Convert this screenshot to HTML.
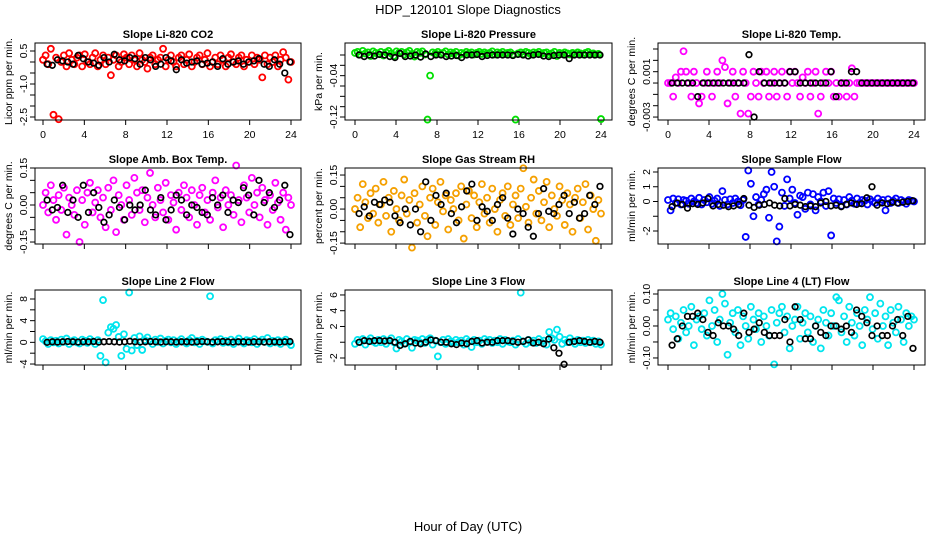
<!DOCTYPE html>
<html><head><meta charset="utf-8"><style>
html,body{margin:0;padding:0;background:#fff}
svg{display:block}
text{font-family:"Liberation Sans",sans-serif;fill:#000}
</style></head><body>
<svg id="chart" width="936" height="540" viewBox="0 0 936 540">
<rect width="936" height="540" fill="#fff"/>
<text x="468" y="14" font-size="13" text-anchor="middle">HDP_120101  Slope Diagnostics</text>
<text x="468" y="531" font-size="13" text-anchor="middle">Hour of Day (UTC)</text>
</svg>
<script>
const hourTicks=[0,4,8,12,16,20,24];
// Panel 1 CO2
const co2Col=[0.1,0.3,-0.1,0.6,-2.4,0.2,-2.6,0.0,0.3,-0.2,0.4,0.1,-0.1,0.2,0.3,-0.2,0.35,0.0,-0.1,0.2,0.4,-0.2,0.1,0.3,-0.1,0.2,-0.6,0.1,0.3,-0.2,0.0,0.35,0.2,-0.1,0.3,0.1,-0.2,0.4,0.1,0.0,-0.3,0.2,0.3,-0.1,0.1,0.2,0.6,-0.2,0.1,0.3,0.0,-0.2,0.2,0.3,-0.1,0.1,0.35,-0.2,0.0,0.2,0.3,-0.1,0.1,0.4,-0.2,0.0,0.2,-0.1,0.3,0.1,-0.2,0.2,0.35,0.0,-0.1,0.2,0.3,-0.2,0.1,0.0,0.3,-0.1,0.2,0.1,-0.7,0.3,-0.1,0.2,0.0,0.3,-0.2,0.1,0.45,0.2,-0.8,0.0];
const co2Blk=[-0.1,-0.15,0.1,0.05,0.0,-0.1,0.3,0.15,0.0,-0.05,-0.15,0.2,0.0,0.35,0.1,0.05,0.2,0.15,-0.1,0.2,0.1,-0.2,-0.1,0.2,0.05,-0.35,0.1,-0.05,0.0,0.05,-0.1,-0.05,0.0,-0.2,0.15,-0.1,0.0,0.05,-0.1,0.0,0.05,0.15,-0.1,-0.2,0.1,-0.1,-0.5,0.0];
// Panel 2 Pressure
const presCol=[0.004,0.006,0.001,0.008,0.003,0.005,-0.002,0.007,0.004,0.002,0.006,-0.001,0.005,0.008,0.003,-0.002,0.007,0.004,0.006,0.001,0.005,0.008,0.002,-0.003,0.006,0.004,0.007,0.001,-0.125,-0.04,0.005,0.003,0.006,0.002,0.004,0.007,0.001,0.005,0.003,0.006,-0.001,0.004,0.002,0.006,0.003,0.005,0.001,0.004,0.006,0.002,0.005,0.003,0.004,0.007,0.001,0.005,0.003,0.006,0.002,0.004,0.005,0.001,-0.125,0.003,0.005,0.002,0.006,0.004,0.001,0.005,0.003,0.006,0.002,0.004,0.005,0.001,0.003,0.006,-0.002,0.004,0.002,0.005,0.003,0.001,0.004,0.002,0.005,0.003,0.001,0.004,0.006,0.002,0.003,0.001,0.002,-0.124];
const presBlk=[0.0,-0.003,0.0,-0.002,0.001,0.0,-0.003,-0.005,0.003,-0.003,-0.002,0.0,-0.004,0.002,-0.003,0.0,0.0,-0.003,-0.002,-0.001,-0.005,0.0,0.0,0.001,-0.003,-0.001,0.0,0.0,0.0,0.0,-0.001,0.001,0.0,-0.002,0.0,0.001,-0.002,-0.003,-0.001,0.0,0.0,-0.007,0.0,0.0,0.0,0.0,0.0,0.0];
// Panel 3 Li-820 Temp
const tempCol=[0,0,-0.0012,0.0005,0,0.001,0.0028,0.001,0,-0.0012,0.001,0,-0.0018,-0.0012,0,0.001,0,-0.0012,0,0.001,0,0.002,0.0014,-0.0018,0,0.001,-0.0012,0,-0.0027,0.001,0,-0.0027,-0.0012,0.001,0,-0.0012,0.001,0,0.001,-0.0012,0,0.001,-0.0012,0,0.001,0,-0.0012,0.001,0,0.001,0,-0.0012,0.0005,0,0.001,-0.0012,0,0.001,-0.0027,-0.0012,0,0.001,0,0.001,-0.0012,0,-0.0012,0,0,-0.0012,0,0.0013,-0.0012,0,0,0,0,0,0,0,0,0,0,0,0,0,0,0,0,0,0,0,0,0,0,0];
const tempBlk=[0,0,0,0,0,-0.0012,0,0,0,0,0,0,0,0,0,0.0025,-0.003,0.001,0,0,0,0,0,0.001,0.001,0,0,0,0,0,0,0.001,-0.0012,0,0,0.001,0.001,0,0,0,0,0,0,0,0,0,0,0];
// Panel 4 Amb Box Temp
const ambCol=[0.0,0.05,-0.03,0.08,0.02,-0.06,0.04,-0.02,0.07,-0.12,0.03,0.0,-0.04,0.06,-0.15,0.02,-0.08,0.05,0.09,-0.03,0.01,0.06,-0.05,0.03,-0.09,0.07,-0.02,0.1,-0.11,0.04,0.0,-0.06,0.08,0.02,-0.04,0.11,0.05,-0.02,0.06,-0.07,0.03,0.13,0.0,-0.05,0.07,0.02,-0.03,0.09,-0.06,0.04,0.01,-0.1,0.05,-0.02,0.08,0.03,-0.05,0.06,0.0,-0.08,0.04,0.07,-0.03,0.02,-0.06,0.05,0.1,-0.01,0.03,-0.09,0.06,0.0,0.04,-0.04,0.16,0.02,-0.07,0.08,0.03,-0.03,0.11,0.0,0.05,-0.05,0.07,0.02,-0.08,0.04,-0.02,0.09,0.01,-0.06,0.05,-0.1,0.03,0.0];
const ambBlk=[0.02,-0.02,-0.01,0.08,-0.03,0.02,-0.05,0.08,-0.03,0.05,-0.01,-0.07,-0.04,0.02,-0.01,-0.06,0.0,-0.02,0.0,0.06,-0.02,-0.04,0.03,-0.06,-0.02,0.04,0.02,-0.04,0.0,-0.01,-0.03,-0.04,0.03,0.0,0.04,-0.03,0.02,0.01,0.07,0.04,-0.04,0.1,0.01,0.05,-0.01,0.02,0.08,-0.12];
// Panel 5 Gas Stream RH
const rhCol=[0.0,0.05,-0.08,0.11,0.03,-0.04,0.07,-0.02,0.09,-0.06,0.02,0.12,-0.03,0.05,-0.1,0.08,0.0,-0.05,0.06,0.13,-0.02,0.04,-0.17,0.07,-0.06,0.02,0.1,-0.03,-0.12,0.05,0.09,-0.07,0.03,0.12,-0.01,0.06,-0.09,0.04,0.0,0.07,-0.05,0.1,-0.13,0.02,0.08,-0.04,0.06,-0.08,0.03,0.11,-0.02,0.05,-0.06,0.09,0.0,-0.1,0.04,0.07,-0.03,0.1,-0.07,0.02,0.06,-0.04,0.09,0.18,0.01,-0.06,0.05,0.13,-0.02,0.08,-0.05,0.03,0.12,-0.08,0.06,0.0,-0.03,0.1,0.04,-0.07,0.07,0.02,-0.1,0.05,0.09,-0.04,0.03,0.11,-0.09,0.06,0.0,-0.14,0.04,-0.02];
const rhBlk=[-0.02,0.01,-0.03,0.03,0.02,0.04,0.03,-0.03,-0.06,0.0,-0.07,0.0,-0.1,0.12,-0.05,0.06,0.02,0.07,-0.02,-0.06,0.01,0.08,0.11,-0.05,0.01,-0.01,-0.05,0.02,0.05,-0.04,-0.11,0.0,-0.02,-0.08,-0.12,-0.02,0.09,-0.01,-0.02,0.02,0.06,-0.02,0.03,-0.04,-0.02,0.06,0.02,0.1];
// Panel 6 Sample Flow
const sfCol=[0.1,-0.6,0.2,-0.1,0.15,-0.2,0.1,0.05,-0.15,0.2,0.0,-0.1,0.25,-0.2,0.1,-0.05,0.3,-0.15,0.05,0.2,-0.3,0.7,0.1,-0.2,0.15,-0.1,0.2,0.0,-0.25,0.1,-2.4,2.1,1.2,-1.0,0.3,-0.2,0.1,0.5,0.8,-1.1,2.0,1.0,-2.7,-1.7,0.6,-0.3,1.5,0.2,0.8,-0.1,-0.9,0.4,0.3,-0.5,0.6,-0.2,0.5,-0.6,0.3,0.0,0.6,-0.3,0.7,-2.3,0.2,-0.1,0.15,-0.3,0.1,-0.2,0.3,0.05,-0.15,0.2,-0.1,0.1,0.05,-0.2,0.15,0.0,-0.1,0.2,-0.05,0.1,-0.6,0.15,-0.1,0.05,0.2,-0.1,0.1,0.0,-0.15,0.1,0.05,0.0];
const sfBlk=[-0.35,-0.1,-0.2,-0.45,-0.15,-0.2,-0.1,0.2,-0.3,-0.2,-0.25,-0.35,-0.3,-0.2,0.2,-0.25,-0.4,-0.25,-0.2,-0.1,-0.25,-0.3,0.2,-0.3,-0.2,-0.25,-0.35,-0.3,-0.35,-0.1,0.0,-0.3,-0.25,-0.35,-0.2,-0.1,-0.2,-0.15,0.25,1.0,-0.25,-0.1,-0.15,-0.05,-0.1,-0.05,0.0,0.05];
// Panel 7 Line 2 Flow
const l2Col=[0.6,0.2,-0.3,0.4,0.0,0.3,-0.2,0.5,0.1,0.7,-0.3,0.2,0.4,0.0,-0.2,0.5,0.3,-0.1,0.6,0.2,-0.3,0.4,-2.5,7.8,-3.7,1.8,2.8,2.5,3.2,1.0,-2.5,1.5,-1.2,9.2,-1.5,0.8,-0.5,1.1,-1.4,0.4,0.9,0.2,-0.3,0.5,0.1,0.7,-0.2,0.3,0.5,0.0,0.4,-0.3,0.2,0.6,0.1,-0.2,0.4,0.8,0.0,0.3,-0.3,0.5,0.2,0.1,8.5,-0.2,0.4,0.2,0.6,-0.1,0.3,0.0,0.5,-0.3,0.2,0.7,0.1,-0.2,0.4,0.3,0.0,0.6,-0.3,0.2,0.5,0.1,0.8,-0.2,0.3,0.0,0.4,-0.3,0.2,0.5,0.0,-0.5];
const l2Blk=[0.0,0.1,0.05,0.1,0.15,0.1,0.05,0.1,0.1,0.15,0.05,0.1,0.15,0.1,0.05,0.1,0.2,0.1,0.05,0.1,0.15,0.1,0.05,0.1,0.1,0.05,0.1,0.1,0.05,0.1,0.15,0.1,0.05,0.1,0.15,0.1,0.05,0.1,0.1,0.05,0.1,0.1,0.05,0.1,0.1,0.05,0.1,0.15];
// Panel 8 Line 3 Flow
const l3Col=[-0.2,0.3,0.0,0.4,-0.3,0.2,0.5,0.1,-0.1,0.3,0.0,0.4,-0.2,0.2,0.5,0.0,-0.8,0.3,0.1,-0.2,0.4,0.0,-0.7,0.3,0.2,0.0,0.4,-0.1,0.3,0.5,-0.3,0.2,-1.8,0.0,0.3,-0.2,0.4,0.1,-0.1,0.3,0.0,0.2,-0.3,0.4,0.1,-0.6,0.3,0.0,0.2,-0.2,0.4,0.1,0.3,-0.1,0.2,0.0,0.4,-0.2,0.3,0.1,0.0,0.2,-0.3,0.4,6.3,0.1,-0.2,0.3,0.0,0.2,-0.1,0.4,0.0,0.2,-0.3,1.3,0.5,0.3,1.6,0.7,-0.2,0.3,0.0,0.5,0.1,-0.2,0.3,0.0,0.2,-0.1,0.3,0.0,0.2,-0.2,0.1,-0.3];
const l3Blk=[0.0,0.2,0.1,0.2,0.2,0.15,0.2,0.0,-0.4,-0.2,0.1,-0.1,-0.2,0.0,0.3,0.2,0.0,0.0,-0.2,-0.3,-0.1,-0.2,0.1,0.2,-0.1,0.0,0.0,0.2,0.2,0.2,0.1,0.0,0.1,0.3,-0.1,0.0,-0.2,0.4,-0.7,-1.4,-2.8,0.0,0.1,0.2,0.1,0.0,0.1,0.0];
// Panel 9 Line 4 Flow
const l4Col=[0.02,0.04,-0.01,0.03,-0.04,0.01,0.05,-0.02,0.0,0.06,-0.06,0.02,0.03,-0.01,0.04,-0.03,0.08,0.0,0.05,-0.05,0.02,0.1,0.07,-0.09,0.01,0.04,-0.02,0.05,-0.06,0.03,0.0,-0.04,0.06,0.02,-0.01,0.04,-0.05,0.03,0.0,-0.03,0.05,-0.12,0.01,0.04,0.06,-0.02,0.03,-0.07,0.0,0.02,0.06,-0.04,0.01,0.04,-0.02,0.03,-0.05,0.0,0.02,-0.07,0.05,0.01,-0.03,0.04,0.0,0.09,0.08,-0.02,0.03,-0.05,0.06,0.01,-0.03,0.04,0.0,-0.06,0.05,0.02,0.09,-0.01,0.04,-0.04,0.07,0.0,0.03,-0.06,0.05,0.01,-0.02,0.06,0.02,-0.05,0.04,0.0,0.03,0.02];
const l4Blk=[-0.06,-0.04,0.0,0.03,0.03,0.04,0.02,-0.02,-0.03,0.01,0.0,0.0,-0.01,-0.03,0.04,-0.02,-0.01,0.01,-0.02,-0.03,-0.03,-0.03,0.02,-0.05,0.06,0.02,-0.04,-0.04,0.0,-0.02,-0.03,0.0,0.0,-0.01,0.0,-0.02,0.05,0.03,0.01,-0.03,0.0,-0.03,-0.03,0.0,0.02,-0.03,0.03,-0.07];

const panels=[
 {name:'co2',title:'Slope Li-820 CO2',ylab:'Licor ppm per min.',col:'#ff0000',c:co2Col,k:co2Blk,box:[35,43,301,120],x0:43,x24:291,yt:0.864,yb:-2.636,ticks:[0.5,0,-0.5,-1,-1.5,-2,-2.5],labels:[[0.5,'0.5'],[-1,'-1.0'],[-2.5,'-2.5']],xl:true},
 {name:'pressure',title:'Slope Li-820 Pressure',ylab:'kPa per min.',col:'#00e000',c:presCol,k:presBlk,box:[345,43,612,120],x0:355,x24:601,yt:0.0232,yb:-0.1258,ticks:[0,-0.02,-0.04,-0.06,-0.08,-0.1,-0.12],labels:[[-0.04,'-0.04'],[-0.12,'-0.12']],xl:true},
 {name:'li820-temp',title:'Slope Li-820 Temp.',ylab:'degrees C per min.',col:'#ff00ff',c:tempCol,k:tempBlk,box:[658,43,925,120],x0:668,x24:914,yt:0.00353,yb:-0.00326,ticks:[0.003,0.002,0.001,0,-0.001,-0.002,-0.003],labels:[[0.001,'0.001'],[-0.003,'-0.003']],xl:true},
 {name:'amb-box-temp',title:'Slope Amb. Box Temp.',ylab:'degrees C per min.',col:'#ff00ff',c:ambCol,k:ambBlk,box:[35,168,301,244],x0:43,x24:291,yt:0.15,yb:-0.158,ticks:[0.15,0.1,0.05,0,-0.05,-0.1,-0.15],labels:[[0.15,'0.15'],[0,'0.00'],[-0.15,'-0.15']],xl:false},
 {name:'gas-stream-rh',title:'Slope Gas Stream RH',ylab:'percent per min.',col:'#f5a000',c:rhCol,k:rhBlk,box:[345,168,612,244],x0:355,x24:601,yt:0.181,yb:-0.154,ticks:[0.15,0.1,0.05,0,-0.05,-0.1,-0.15],labels:[[0.15,'0.15'],[0,'0.00'],[-0.15,'-0.15']],xl:false},
 {name:'sample-flow',title:'Slope Sample Flow',ylab:'ml/min per min.',col:'#0000ff',c:sfCol,k:sfBlk,box:[658,168,925,244],x0:668,x24:914,yt:2.27,yb:-2.88,ticks:[2,1,0,-1,-2],labels:[[2,'2'],[1,'1'],[0,'0'],[-2,'-2']],xl:false},
 {name:'line2-flow',title:'Slope Line 2 Flow',ylab:'ml/min per min.',col:'#00e5ee',c:l2Col,k:l2Blk,box:[35,290,301,365],x0:43,x24:291,yt:9.66,yb:-4.18,ticks:[8,6,4,2,0,-2,-4],labels:[[8,'8'],[4,'4'],[0,'0'],[-4,'-4']],xl:false},
 {name:'line3-flow',title:'Slope Line 3 Flow',ylab:'ml/min per min.',col:'#00e5ee',c:l3Col,k:l3Blk,box:[345,290,612,365],x0:355,x24:601,yt:6.63,yb:-2.89,ticks:[6,4,2,0,-2],labels:[[6,'6'],[4,'4'],[2,'2'],[-2,'-2']],xl:false},
 {name:'line4-flow',title:'Slope Line 4 (LT) Flow',ylab:'ml/min per min.',col:'#00e5ee',c:l4Col,k:l4Blk,box:[658,290,925,365],x0:668,x24:914,yt:0.1125,yb:-0.122,ticks:[0.1,0.05,0,-0.05,-0.1],labels:[[0.1,'0.10'],[0,'0.00'],[-0.1,'-0.10']],xl:false}
];
const NS='http://www.w3.org/2000/svg';
const svg=document.getElementById('chart');
function mk(tag,at,parent){const e=document.createElementNS(NS,tag);for(const a in at)e.setAttribute(a,at[a]);(parent||svg).appendChild(e);return e;}
panels.forEach(p=>{
 const [l,t,r,b]=p.box;
 const g=mk('g',{});
 
 
 const xs=h=>p.x0+(p.x24-p.x0)*h/24;
 const ys=v=>t+(p.yt-v)/(p.yt-p.yb)*(b-t);
 const tt=mk('text',{x:(l+r)/2,y:t-5,'font-size':11,'font-weight':'bold','text-anchor':'middle'},g);
 tt.textContent=p.title;
 
 
 const yl=mk('text',{x:0,y:0,'font-size':10.5,'text-anchor':'middle',transform:`translate(${l-23},${(t+b)/2}) rotate(-90)`},g);
 yl.textContent=p.ylab;
 
 
 p.ticks.forEach(v=>{
  const tk=mk('line',{x1:l-5,x2:l,y1:ys(v),y2:ys(v),stroke:'#000','stroke-width':1},g);
  
  
 });
 p.labels.forEach(([v,s])=>{
  const tl=mk('text',{x:0,y:0,'font-size':10.5,'text-anchor':'middle',transform:`translate(${l-8},${ys(v)}) rotate(-90)`},g);
  tl.textContent=s;
  
  
 });
 hourTicks.forEach(h=>{
  const tk=mk('line',{x1:xs(h),x2:xs(h),y1:b,y2:b+5,stroke:'#000','stroke-width':1},g);
  
  
  if(p.xl){
   const tl=mk('text',{x:xs(h),y:b+18,'font-size':10.5,'text-anchor':'middle'},g);
   tl.textContent=String(h);
   
   
  }
 });
 const n=p.c.length;
 p.c.forEach((v,i)=>{
  const c=mk('circle',{cx:xs(i*24/(n-1)),cy:ys(v),r:3,fill:'none',stroke:p.col,'stroke-width':1.8},g);
  
  
 });
 const m=p.k.length;
 p.k.forEach((v,i)=>{
  const c=mk('circle',{cx:xs(0.4+i*23.5/(m-1)),cy:ys(v),r:2.8,fill:'none',stroke:'#000','stroke-width':1.7},g);
  
  
 });
 const bx=mk('rect',{x:l,y:t,width:r-l,height:b-t,fill:'none',stroke:'#000','stroke-width':1},g);
 
 
});
</script>
</body></html>
